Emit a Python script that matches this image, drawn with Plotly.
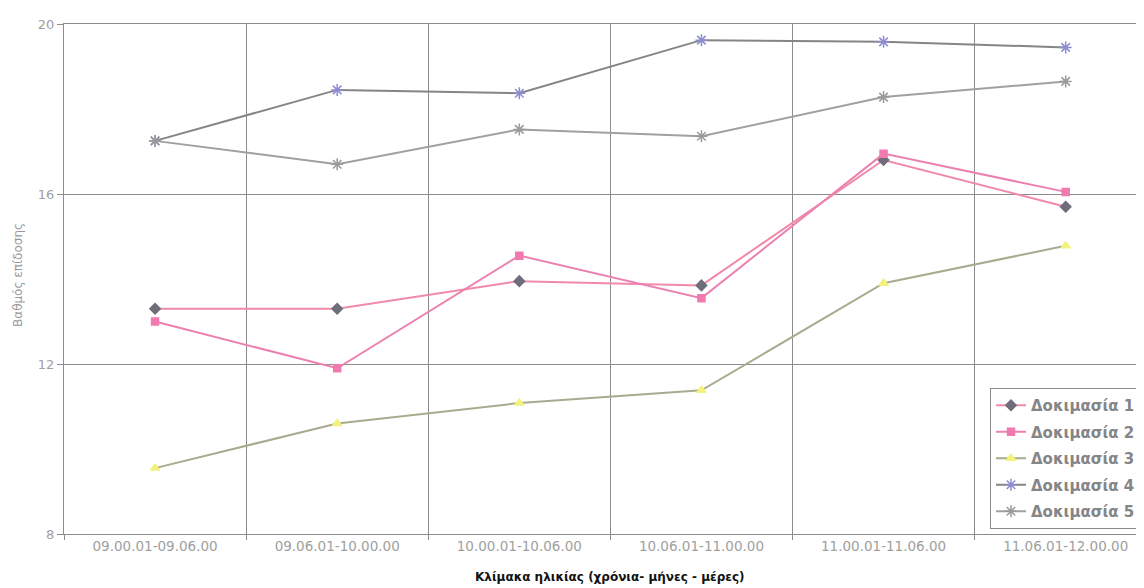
import plotly.graph_objects as go

categories = ["09.00.01-09.06.00", "09.06.01-10.00.00", "10.00.01-10.06.00",
              "10.06.01-11.00.00", "11.00.01-11.06.00", "11.06.01-12.00.00"]
series_names = ["Δοκιμασία 1", "Δοκιμασία 2", "Δοκιμασία 3", "Δοκιμασία 4", "Δοκιμασία 5"]
test1 = [13.3, 13.3, 13.95, 13.85, 16.8, 15.7]
test2 = [13.0, 11.9, 14.55, 13.55, 16.95, 16.05]
test3 = [9.55, 10.6, 11.08, 11.38, 13.9, 14.78]
test4 = [17.25, 18.45, 18.37, 19.62, 19.58, 19.45]
test5 = [17.25, 16.7, 17.52, 17.36, 18.28, 18.65]
y_ticks = [8, 12, 16, 20]

values = [test1, test2, test3, test4, test5]
styles = [
    dict(line="#F08AA8", msym="diamond", mcol="#6E6E7A", mline="#6E6E7A", msize=8),
    dict(line="#EC80B0", msym="square", mcol="#F07AB0", mline="#F07AB0", msize=7),
    dict(line="#A9AB8E", msym="triangle-up", mcol="#F3F27C", mline="#F3F27C", msize=8),
    dict(line="#858585", msym="asterisk-open", mcol="#8C8CD2", mline="#8C8CD2", msize=10),
    dict(line="#A0A0A0", msym="asterisk-open", mcol="#9A9A9A", mline="#9A9A9A", msize=10),
]

fig = go.Figure()
for name, vals, st in zip(series_names, values, styles):
    fig.add_trace(go.Scatter(
        x=categories, y=vals, name=name, mode="lines+markers",
        legendgroup=name,
        line=dict(color=st["line"], width=2),
        marker=dict(symbol=st["msym"], color=st["mcol"], size=st["msize"],
                    line=dict(color=st["mline"], width=1.5)),
    ))

font_main = "DejaVu Sans"
fig.update_layout(
    width=1136, height=580,
    margin=dict(l=56, r=0, t=16, b=54, autoexpand=False),
    paper_bgcolor="white", plot_bgcolor="white",
    showlegend=True,
    legend=dict(x=(990 - 64) / 1080, y=(534 - 388) / 510, xanchor="left", yanchor="top",
                bgcolor="white", bordercolor="#8A8A8A", borderwidth=1,
                font=dict(family=font_main, size=15, color="#858585", weight="bold"),
                traceorder="grouped", tracegroupgap=4),
    xaxis=dict(type="category", range=[-0.5, 5.43], tickson="boundaries",
               showgrid=True, gridcolor="#8C8C8C", gridwidth=1,
               showline=True, linecolor="#8C8C8C", linewidth=1, mirror=True,
               ticks="outside", ticklen=5, tickcolor="#8C8C8C",
               tickfont=dict(family=font_main, size=13.5, color="#A0A0A0")),
    yaxis=dict(range=[8, 20], tickvals=y_ticks, showgrid=True, gridcolor="#8C8C8C", gridwidth=1,
               showline=True, linecolor="#8C8C8C", linewidth=1, zeroline=False,
               ticks="outside", ticklen=6, tickcolor="#8C8C8C",
               tickfont=dict(family=font_main, size=13, color="#A0A0A0")),
    annotations=[
        dict(text="<b>Κλίμακα ηλικίας (χρόνια- μήνες - μέρες)</b>", xref="paper", yref="paper",
             x=(610 - 64) / 1080, y=-(577 - 534) / 510, xanchor="center", yanchor="middle",
             showarrow=False, font=dict(family=font_main, size=12, color="#111111")),
        dict(text="Βαθμός επίδοσης", xref="paper", yref="paper",
             x=-(64 - 18) / 1080, y=(534 - 275) / 510, xanchor="center", yanchor="middle",
             textangle=-90, showarrow=False, font=dict(family=font_main, size=12, color="#9A9A9A")),
    ],
)

fig.write_html("out.html")
